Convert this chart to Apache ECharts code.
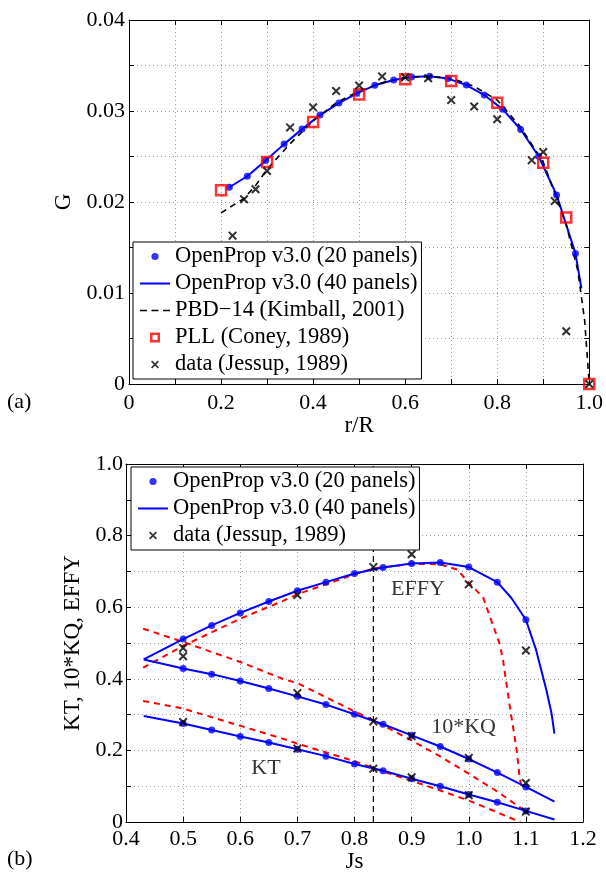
<!DOCTYPE html>
<html><head><meta charset="utf-8">
<script src="https://cdn.jsdelivr.net/npm/echarts@6/dist/echarts.min.js"></script>
<style>html,body{margin:0;padding:0;background:#fff}#c{width:606px;height:880px}</style>
</head><body><div id="c"></div>
<script>
// ---------- (a) circulation distribution ----------
const rR20 = [0.218,0.257,0.297,0.337,0.376,0.415,0.456,0.495,0.534,0.575,0.614,0.653,0.693,0.733,0.772,0.812,0.851,0.890,0.929,0.970];
const G20  = [0.02162,0.02283,0.02456,0.02636,0.02801,0.02955,0.03087,0.03194,0.03282,0.03340,0.03373,0.03381,0.03356,0.03285,0.03175,0.03018,0.02797,0.02503,0.02078,0.01435];
const rR40 = [0.218,0.257,0.297,0.337,0.376,0.415,0.456,0.495,0.534,0.575,0.614,0.653,0.693,0.733,0.772,0.812,0.851,0.890,0.929,0.970,0.983];
const G40  = [0.02162,0.02283,0.02456,0.02636,0.02801,0.02955,0.03087,0.03194,0.03282,0.03340,0.03373,0.03381,0.03356,0.03285,0.03175,0.03018,0.02797,0.02503,0.02078,0.01435,0.0105];
const rPBD = [0.20,0.225,0.25,0.275,0.30,0.35,0.40,0.45,0.50,0.55,0.60,0.65,0.70,0.75,0.80,0.85,0.90,0.95,0.975,0.99,1.0];
const GPBD = [0.0188,0.0196,0.0204,0.0218,0.0236,0.0264,0.0289,0.0309,0.0322,0.0331,0.0337,0.0338,0.0336,0.0327,0.0312,0.0283,0.0244,0.0175,0.0125,0.0070,0.0];
const rPLL = [0.2,0.3,0.4,0.5,0.6,0.7,0.8,0.9,0.95,1.0];
const GPLL = [0.0213,0.0244,0.0288,0.0318,0.0335,0.0333,0.0309,0.0243,0.0183,0.0];
const rJes = [0.225,0.25,0.275,0.3,0.35,0.4,0.45,0.5,0.55,0.6,0.65,0.7,0.75,0.8,0.875,0.9,0.925,0.95,1.0];
const GJes = [0.0163,0.0203,0.0214,0.0234,0.0282,0.0304,0.0322,0.0328,0.0338,0.0337,0.0336,0.0312,0.0305,0.0291,0.0246,0.0255,0.0201,0.0058,0.0];

// ---------- (b) performance curves ----------
const Js20   = [0.5,0.55,0.6,0.65,0.7,0.75,0.8,0.85,0.9,0.95,1.0,1.05,1.1];
const EFFY20 = [0.511,0.549,0.584,0.616,0.646,0.670,0.694,0.711,0.722,0.725,0.712,0.670,0.565];
const KQ20   = [0.429,0.413,0.394,0.373,0.351,0.328,0.301,0.273,0.242,0.211,0.176,0.138,0.098];
const KT20   = [0.275,0.257,0.239,0.222,0.203,0.184,0.162,0.143,0.121,0.100,0.077,0.055,0.031];

const JsEffy40 = [0.431,0.5,0.55,0.6,0.65,0.7,0.75,0.8,0.85,0.9,0.95,1.0,1.05,1.075,1.1,1.118,1.136,1.145,1.15];
const EFFY40   = [0.454,0.511,0.549,0.584,0.616,0.646,0.670,0.694,0.711,0.722,0.725,0.712,0.670,0.625,0.565,0.480,0.368,0.303,0.247];
const JsK40 = [0.431,0.5,0.55,0.6,0.65,0.7,0.75,0.8,0.85,0.9,0.95,1.0,1.05,1.1,1.15];
const KQ40  = [0.454,0.429,0.413,0.394,0.373,0.351,0.328,0.301,0.273,0.242,0.211,0.176,0.138,0.098,0.057];
const KT40  = [0.296,0.275,0.257,0.239,0.222,0.203,0.184,0.162,0.143,0.121,0.100,0.077,0.055,0.031,0.007];

const JsEffyRed = [0.43,0.5,0.6,0.674,0.7,0.8,0.833,0.9,0.95,0.98,1.0,1.025,1.054,1.06,1.072,1.084,1.089,1.092];
const EFFYRed   = [0.431,0.492,0.568,0.617,0.636,0.692,0.708,0.721,0.720,0.705,0.668,0.628,0.498,0.452,0.321,0.200,0.126,0.100];
const JsKQRed = [0.43,0.5,0.6,0.674,0.7,0.8,0.833,0.9,0.95,1.0,1.05,1.095];
const KQRed   = [0.540,0.503,0.447,0.400,0.388,0.309,0.284,0.228,0.183,0.135,0.085,0.035];
const JsKTRed = [0.43,0.5,0.674,0.7,0.8,0.833,0.9,0.95,1.0,1.05,1.09];
const KTRed   = [0.338,0.317,0.233,0.219,0.170,0.150,0.115,0.088,0.060,0.027,0.0];

const JsJesEffy = [0.5,0.5,0.7,0.833,0.9,1.0,1.1];
const EFFYJes   = [0.486,0.463,0.634,0.712,0.748,0.664,0.479];
const JsJesKQ   = [0.7,0.833,0.9,1.0,1.1];
const KQJes     = [0.360,0.281,0.240,0.179,0.109];
const JsJesKT   = [0.5,0.7,0.833,0.9,1.0,1.1];
const KTJes     = [0.279,0.205,0.149,0.125,0.075,0.029];

const designJs = 0.833;
const curveLabels = ['EFFY','10*KQ','KT'];
const curveLabelJs = [0.911,0.991,0.645];
const curveLabelY  = [0.650,0.265,0.150];

const names = {
  op20:'OpenProp v3.0 (20 panels)', op40:'OpenProp v3.0 (40 panels)',
  pbd:'PBD\u221214 (Kimball, 2001)', pll:'PLL (Coney, 1989)', jes:'data (Jessup, 1989)'
};

const zip = (a,b) => a.map((v,i)=>[v,b[i]]);
const FONT = 'Liberation Serif';
const BLUE = '#0000ff';
const XPATH = 'path://M0,1.6 L1.6,0 L5,3.4 L8.4,0 L10,1.6 L6.6,5 L10,8.4 L8.4,10 L5,6.6 L1.6,10 L0,8.4 L3.4,5 Z';

const icons = {
  dot:  'path://M0,0 M30,12 M18.6,6 A3.6,3.6 0 1 1 11.4,6 A3.6,3.6 0 1 1 18.6,6 Z',
  line: 'path://M0,0 M30,12 M0,5 L30,5 L30,7 L0,7 Z',
  dash: 'path://M0,0 M30,12 M0,5.3 L7,5.3 L7,6.7 L0,6.7 Z M11.5,5.3 L18.5,5.3 L18.5,6.7 L11.5,6.7 Z M23,5.3 L30,5.3 L30,6.7 L23,6.7 Z',
  sq:   'path://M0,0 M30,12 M10,1 L20,1 L20,11 L10,11 Z M12.5,3.5 L12.5,8.5 L17.5,8.5 L17.5,3.5 Z',
  x:    'path://M0,0 M30,12 M11,3.2 L12.2,2 L15,4.8 L17.8,2 L19,3.2 L16.2,6 L19,8.8 L17.8,10 L15,7.2 L12.2,10 L11,8.8 L13.8,6 Z'
};

const tickFont = {fontFamily: FONT, fontSize: 22, color: '#000'};
const gridLine = {show: true, lineStyle: {color: '#9a9a9a', type: [1,3], width: 1}};

function mainX(gi, min, max, interval, fmt, name, nameGap, margin){
  return {type:'value', gridIndex:gi, min, max, interval, position:'bottom',
    name, nameLocation:'middle', nameGap, nameTextStyle:{fontFamily:FONT,fontSize:23,color:'#000'},
    axisLine:{onZero:false,lineStyle:{color:'#000',width:1}},
    axisTick:{inside:true,length:5,lineStyle:{color:'#000'}},
    axisLabel:Object.assign({formatter:fmt, margin, showMinLabel:true, showMaxLabel:true}, tickFont),
    splitLine:gridLine};
}
function mainY(gi, min, max, interval, fmt, name, nameGap, margin){
  return {type:'value', gridIndex:gi, min, max, interval, position:'left',
    name, nameLocation:'middle', nameGap, nameRotate:90, nameTextStyle:{fontFamily:FONT,fontSize:23,color:'#000'},
    axisLine:{onZero:false,lineStyle:{color:'#000',width:1}},
    axisTick:{inside:true,length:5,lineStyle:{color:'#000'}},
    axisLabel:Object.assign({formatter:fmt, margin, showMinLabel:true, showMaxLabel:true}, tickFont),
    splitLine:gridLine};
}
function boxAxis(type, gi, min, max, interval, pos){
  return {type:'value', gridIndex:gi, min, max, interval, position:pos,
    axisLine:{onZero:false,lineStyle:{color:'#000',width:1}},
    axisTick:{inside:true,length:5,lineStyle:{color:'#000'}},
    axisLabel:{show:false}, splitLine:{show:false}};
}

const fmtTopX = v => { const k = Math.round(v*10); if (k%2) return ''; return k===0 ? '0' : (v).toFixed(1); };
const fmtTopY = v => { const k = Math.round(v*1000); if (k%10) return ''; return k===0 ? '0' : v.toFixed(2); };
const fmtBotX = v => v.toFixed(1);
const fmtBotY = v => { const k = Math.round(v*10); if (k%2) return ''; return k===0 ? '0' : v.toFixed(1); };

const chart = echarts.init(document.getElementById('c'), null, {renderer:'canvas'});

const legendText = {fontFamily: FONT, fontSize: 22.5, color: '#000', lineHeight: 22};

const option = {
  animation:false,
  backgroundColor:'#fff',
  textStyle:{fontFamily:FONT},
  grid:[
    {left:129, top:20, width:463, height:364, show:false},
    {left:126, top:464, width:457, height:358, show:false}
  ],
  xAxis:[
    mainX(0, 0, 1, 0.1, fmtTopX, 'r/R', 28, 8),
    boxAxis('x', 0, 0, 1, 0.1, 'top'),
    mainX(1, 0.4, 1.2, 0.1, fmtBotX, 'Js', 27, 6),
    boxAxis('x', 1, 0.4, 1.2, 0.1, 'top')
  ],
  yAxis:[
    mainY(0, 0, 0.04, 0.005, fmtTopY, 'G', 53, 4),
    boxAxis('y', 0, 0, 0.04, 0.005, 'right'),
    mainY(1, 0, 1, 0.1, fmtBotY, 'KT, 10*KQ, EFFY', 38, 3),
    boxAxis('y', 1, 0, 1, 0.1, 'right')
  ],
  legend:[
    {show:true, orient:'vertical', left:133, top:242, itemWidth:30, itemHeight:12, itemGap:4,
     symbolKeepAspect:false, backgroundColor:'#fff', borderColor:'#000', borderWidth:1, padding:[3,4,3,7],
     textStyle:legendText, selectedMode:false,
     data:[
       {name:names.op20, icon:icons.dot, itemStyle:{color:BLUE,borderWidth:0}},
       {name:names.op40, icon:icons.line, itemStyle:{color:BLUE,borderWidth:0}},
       {name:names.pbd, icon:icons.dash, itemStyle:{color:'#000',borderWidth:0}},
       {name:names.pll, icon:icons.sq, itemStyle:{color:'#ff0000',borderWidth:0}},
       {name:names.jes, icon:icons.x, itemStyle:{color:'#000',borderWidth:0}}
     ]},
    {show:true, orient:'vertical', left:131, top:467, itemWidth:30, itemHeight:12, itemGap:4,
     symbolKeepAspect:false, backgroundColor:'#fff', borderColor:'#000', borderWidth:1, padding:[3,4,3,7],
     textStyle:legendText, selectedMode:false,
     data:[
       {name:names.op20, icon:icons.dot, itemStyle:{color:BLUE,borderWidth:0}},
       {name:names.op40, icon:icons.line, itemStyle:{color:BLUE,borderWidth:0}},
       {name:names.jes, icon:icons.x, itemStyle:{color:'#000',borderWidth:0}}
     ]}
  ],
  graphic:[
    {type:'text', left:7, top:391, style:{text:'(a)', fontFamily:FONT, fontSize:22, fill:'#000'}},
    {type:'text', left:7, top:848, style:{text:'(b)', fontFamily:FONT, fontSize:22, fill:'#000'}}
  ],
  series:[
    // ---- (a) ----
    {name:names.op40, type:'line', xAxisIndex:0, yAxisIndex:0, data:zip(rR40,G40), showSymbol:false, symbol:'none',
     lineStyle:{color:BLUE,width:2}, z:3},
    {name:names.op20, type:'scatter', xAxisIndex:0, yAxisIndex:0, data:zip(rR20,G20), symbol:'circle', symbolSize:7,
     itemStyle:{color:BLUE}, z:4},
    {name:names.pbd, type:'line', xAxisIndex:0, yAxisIndex:0, data:zip(rPBD,GPBD), showSymbol:false, symbol:'none',
     lineStyle:{color:'#000',width:1.6,type:[6,5]}, z:3},
    {name:names.pll, type:'scatter', xAxisIndex:0, yAxisIndex:0, data:zip(rPLL,GPLL), symbol:'rect', symbolSize:10,
     itemStyle:{color:'rgba(0,0,0,0)', borderColor:'#ff0000', borderWidth:2.5}, z:5},
    {name:names.jes, type:'scatter', xAxisIndex:0, yAxisIndex:0, data:zip(rJes,GJes), symbol:XPATH, symbolSize:9,
     itemStyle:{color:'#000'}, z:6},
    // ---- (b) ----
    {name:'design', type:'line', xAxisIndex:2, yAxisIndex:2, data:[[designJs,0],[designJs,1]], showSymbol:false, symbol:'none',
     lineStyle:{color:'#000',width:1.2,type:[6,4]}, z:2},
    {name:'EFFY red', type:'line', xAxisIndex:2, yAxisIndex:2, data:zip(JsEffyRed,EFFYRed), showSymbol:false, symbol:'none',
     lineStyle:{color:'#ff0000',width:2,type:[6,5]}, z:3},
    {name:'KQ red', type:'line', xAxisIndex:2, yAxisIndex:2, data:zip(JsKQRed,KQRed), showSymbol:false, symbol:'none',
     lineStyle:{color:'#ff0000',width:2,type:[6,5]}, z:3},
    {name:'KT red', type:'line', xAxisIndex:2, yAxisIndex:2, data:zip(JsKTRed,KTRed), showSymbol:false, symbol:'none',
     lineStyle:{color:'#ff0000',width:2,type:[6,5]}, z:3},
    {name:names.op40, type:'line', xAxisIndex:2, yAxisIndex:2, data:zip(JsEffy40,EFFY40), showSymbol:false, symbol:'none',
     lineStyle:{color:BLUE,width:2}, z:4},
    {name:names.op40, type:'line', xAxisIndex:2, yAxisIndex:2, data:zip(JsK40,KQ40), showSymbol:false, symbol:'none',
     lineStyle:{color:BLUE,width:2}, z:4},
    {name:names.op40, type:'line', xAxisIndex:2, yAxisIndex:2, data:zip(JsK40,KT40), showSymbol:false, symbol:'none',
     lineStyle:{color:BLUE,width:2}, z:4},
    {name:names.op20, type:'scatter', xAxisIndex:2, yAxisIndex:2,
     data:zip(Js20,EFFY20).concat(zip(Js20,KQ20), zip(Js20,KT20)), symbol:'circle', symbolSize:7,
     itemStyle:{color:BLUE}, z:5},
    {name:names.jes, type:'scatter', xAxisIndex:2, yAxisIndex:2,
     data:zip(JsJesEffy,EFFYJes).concat(zip(JsJesKQ,KQJes), zip(JsJesKT,KTJes)), symbol:XPATH, symbolSize:9,
     itemStyle:{color:'#000'}, z:6},
    {name:'labels', type:'scatter', xAxisIndex:2, yAxisIndex:2, symbolSize:0, silent:true,
     data:curveLabels.map((t,i)=>({name:t, value:[curveLabelJs[i], curveLabelY[i]]})),
     label:{show:true, position:'inside', formatter:'{b}', fontFamily:FONT, fontSize:22, color:'#000'}, z:7}
  ]
};
chart.setOption(option);
</script>
</body></html>
